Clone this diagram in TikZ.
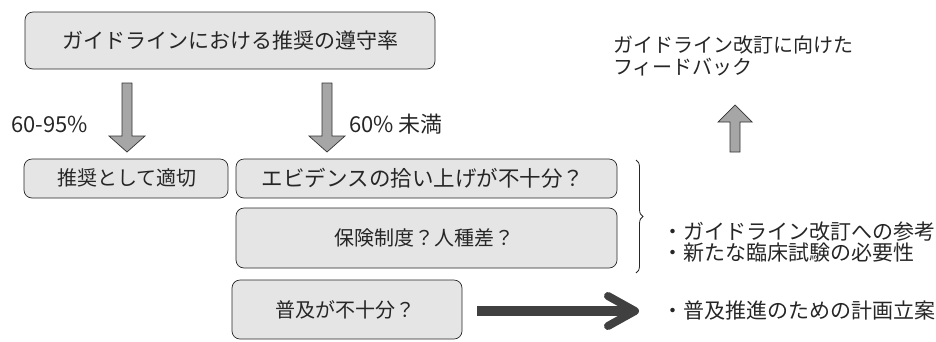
\documentclass[tikz,border=0pt]{standalone}
\usepackage{fontspec}
\setmainfont{Noto Sans CJK JP}
\usetikzlibrary{decorations.pathreplacing,calc}
\tikzset{
  box/.style={draw=black!85, line width=0.7pt, fill=black!10, rounded corners=8pt},
  txt/.style={text=black!85, font=\fontsize{20}{24}\selectfont, inner sep=0pt},
  rtxt/.style={text=black!85, font=\fontsize{21}{24}\selectfont, inner sep=0pt},
  lbl/.style={text=black!85, font=\fontsize{22}{26}\selectfont, inner sep=0pt},
  blockarrow/.style={draw=black!80, line width=0.7pt, fill=black!35, line join=miter},
  darkarrow/.style={draw=black!75, line width=10pt},
}
\begin{document}
\begin{tikzpicture}[x=1pt,y=-1pt]
\useasboundingbox (0,0) rectangle (936,341);
% boxes
\draw[box] (25,12) rectangle (435,69);
\node[txt, font=\fontsize{21}{24}\selectfont] (top) at (230,41) {ガイドラインにおける推奨の遵守率};
\draw[box] (24,159) rectangle (228,198);
\node[txt] (b1) at (127,178) {推奨として適切};
\draw[box] (236,159) rectangle (617,198);
\node[txt, font=\fontsize{21.5}{24}\selectfont] (b2) at (423,178) {エビデンスの拾い上げが不十分？};
\draw[box] (236,208) rectangle (617,268);
\node[txt] (b3) at (424,238) {保険制度？人種差？};
\draw[box] (232,280) rectangle (462,339);
\node[txt] (b4) at (345,310) {普及が不十分？};
% labels
\node[lbl, anchor=west] (l1) at (11,124) {60-95\%};
\node[lbl, anchor=west] (l2) at (349,124) {60\% 未満};
% down arrows
\draw[blockarrow] (122,83) -- (132,83) -- (132,136) -- (145,136) -- (127,152) -- (109,136) -- (122,136) -- cycle;
\draw[blockarrow] (322,83) -- (332,83) -- (332,136) -- (345,136) -- (327,152) -- (309,136) -- (322,136) -- cycle;
% up arrow
\draw[blockarrow] (730,152) -- (740,152) -- (740,122) -- (752,122) -- (735,105) -- (718,122) -- (730,122) -- cycle;
% feedback text
\node[txt, anchor=west] (fb1) at (613,45) {ガイドライン改訂に向けた};
\node[txt, anchor=west] (fb2) at (613,67) {フィードバック};
% brace
\draw[black!85, line width=0.8pt, decorate, decoration={brace, amplitude=7pt}] (636,160) -- (636,273);
\node[rtxt, anchor=west] (r1) at (662,232) {・ガイドライン改訂への参考};
\node[rtxt, anchor=west] (r2) at (662,253) {・新たな臨床試験の必要性};
% dark arrow
\draw[darkarrow] (477,311) -- (628,311);
\draw[black!75, line width=8pt, line join=round, line cap=round] (608,296) -- (635,311) -- (608,326);
\node[rtxt, anchor=west] (r3) at (662,310) {・普及推進のための計画立案};
\end{tikzpicture}
\end{document}
